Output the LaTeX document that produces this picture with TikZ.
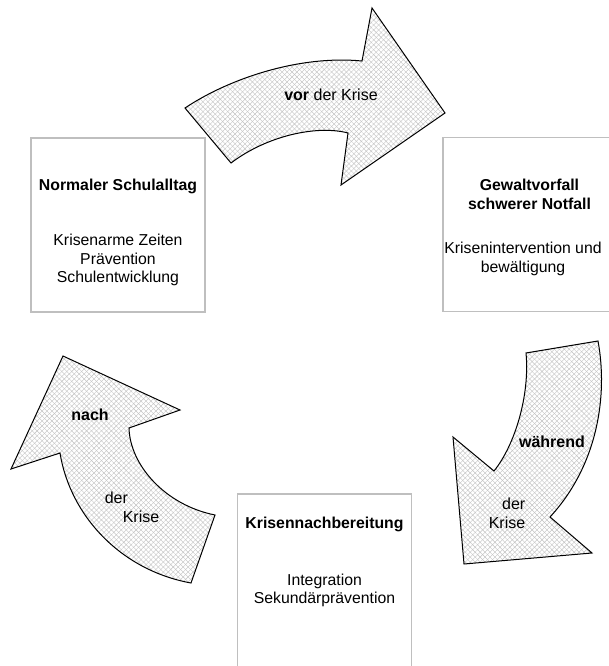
\documentclass[tikz,border=0pt]{standalone}
\usepackage{fontspec}
\setmainfont{Liberation Sans}
\usetikzlibrary{patterns.meta}
\tikzset{
  box/.style={draw=black!25, line width=1.7pt, minimum width=174pt, minimum height=174pt, inner sep=0pt},
  txt/.style={font=\fontsize{15.8}{18.5}\selectfont, align=center, inner sep=0pt},
  lbl/.style={font=\fontsize{16}{19}\selectfont, inner sep=0pt},
  hatch/.style={fill=white,
    postaction={pattern={Lines[angle=45,distance=3.5pt,line width=0.4pt]}, pattern color=black!24},
    postaction={pattern={Lines[angle=-45,distance=3.5pt,line width=0.4pt]}, pattern color=black!24},
    postaction={draw=black, line width=1pt, line join=miter}}
}
\begin{document}
\begin{tikzpicture}[x=1pt,y=-1pt]
\useasboundingbox (0,0) rectangle (609,666);
% boxes
\node[box] (b1) at (118,225) {};
\node[box] (b2) at (530,224.5) {};
\node[box] (b3) at (324.5,581) {};
% box texts
\node[txt] (t1) at (118,232.6) {\textbf{Normaler Schulalltag}\\[37pt]Krisenarme Zeiten\\Prävention\\Schulentwicklung};
\node[txt, font=\fontsize{15.8}{19.2}\selectfont] (t2) at (529.5,227.6) {\textbf{Gewaltvorfall}\\\textbf{schwerer Notfall}\\[24.4pt]Krisenintervention und\rule{13pt}{0pt}\\bewältigung\rule{13pt}{0pt}};
\node[txt, font=\fontsize{15.8}{18}\selectfont] (t3) at (324.5,562.1) {\textbf{Krisennachbereitung}\\[39pt]Integration\\Sekundärprävention};
% top arrow (vor der Krise)
\path[hatch] (185,108) .. controls (230,78) and (300,55) .. (362,61)
  -- (372,8) -- (445,113) -- (341,185) -- (348,133)
  .. controls (318,125) and (268,135) .. (231,163) -- cycle;
% right arrow (waehrend der Krise)
\path[hatch] (526,353) -- (598,341) .. controls (608,395) and (598,465) .. (550,517)
  -- (592,553) -- (464,564) -- (453,437) -- (494,471)
  .. controls (515,445) and (530,395) .. (526,353) -- cycle;
% left arrow (nach der Krise)
\path[hatch] (191,583) -- (215,515) .. controls (165,505) and (130,465) .. (129,428)
  -- (180,410) -- (63,356) -- (11,469) -- (60,453)
  .. controls (70,515) and (120,570) .. (191,583) -- cycle;
% arrow labels
\node[lbl] (l1) at (331,95) {\textbf{vor} der Krise};
\node[lbl] (l2) at (552,442) {\textbf{während}};
\node[lbl, align=right] (l3) at (507,513.5) {der\\Krise};
\node[lbl] (l4) at (90,415) {\textbf{nach}};
\node[lbl, align=left] (l5) at (132,507) {der\\\hspace*{18pt}Krise};
\end{tikzpicture}
\end{document}
